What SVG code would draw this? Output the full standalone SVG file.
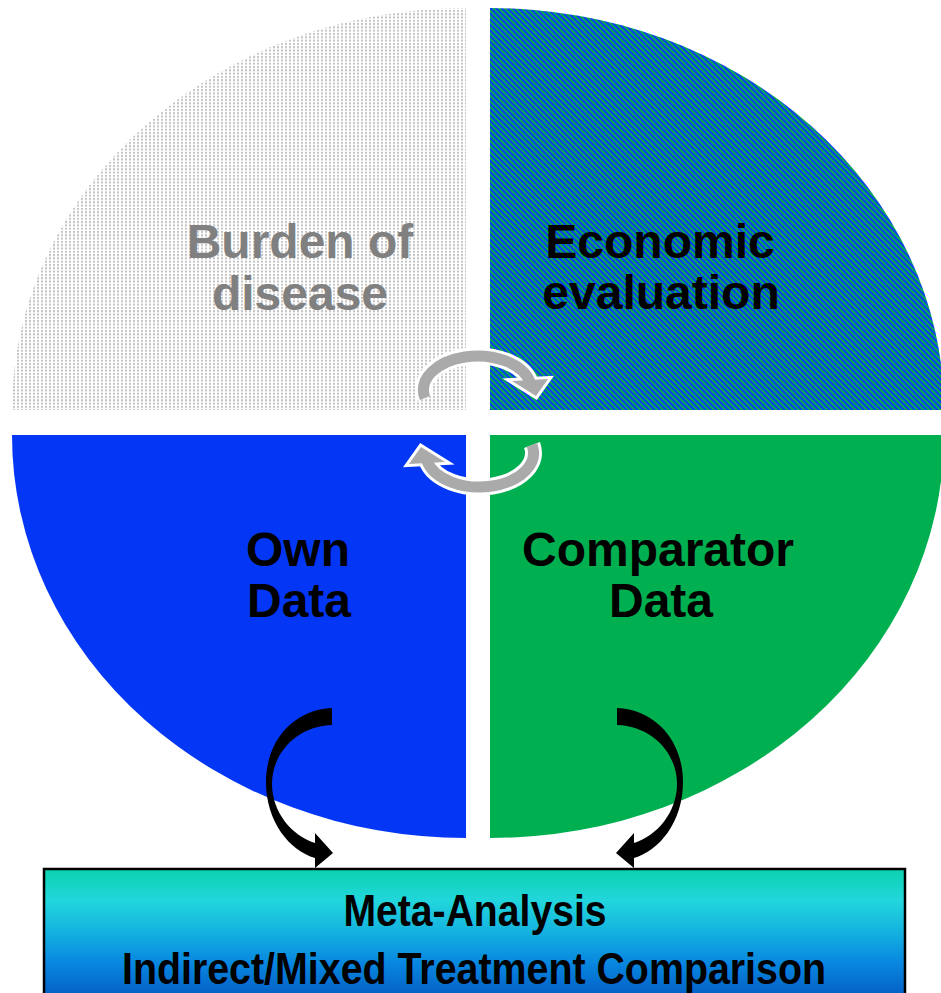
<svg xmlns="http://www.w3.org/2000/svg" width="941" height="993" viewBox="0 0 941 993">
<style>
.q{font-family:"Liberation Sans",Arial,sans-serif;font-weight:bold;font-size:48px;text-anchor:middle}
.b{font-family:"Liberation Sans",Arial,sans-serif;font-weight:bold;font-size:44px;text-anchor:middle}
.gw{fill:none;stroke:#fff;stroke-width:17}
.gg{fill:none;stroke:#aaaaaa;stroke-width:11}
.hw{fill:#fff;stroke:#fff;stroke-width:6;stroke-linejoin:miter}
.hg{fill:#aaaaaa}
</style>
<defs>
<pattern id="dots" width="4" height="3.3" patternUnits="userSpaceOnUse">
<rect width="4" height="3.3" fill="#fff"/>
<rect x="1" y="0" width="2" height="2" fill="#c4c4c4"/>
</pattern>
<pattern id="stripes" width="4" height="4" patternUnits="userSpaceOnUse" patternTransform="rotate(-45)">
<rect width="2" height="4" fill="#0b3af8"/>
<rect x="2" width="2" height="4" fill="#0aac4c"/>
</pattern>
<linearGradient id="boxg" gradientUnits="userSpaceOnUse" x1="0" y1="869" x2="0" y2="995">
<stop offset="0" stop-color="#0bd2ae"/>
<stop offset="0.25" stop-color="#22d6dc"/>
<stop offset="0.5" stop-color="#14b2e0"/>
<stop offset="0.75" stop-color="#0886e0"/>
<stop offset="1" stop-color="#0460c6"/>
</linearGradient>
</defs>

<g id="burden">
<path d="M 466 410 L 12 410 A 454 402 0 0 1 466 8 Z" fill="url(#dots)"/>
<text class="q" x="300" y="258" fill="#808080">Burden of</text>
<text class="q" x="300" y="310" fill="#808080">disease</text>
</g>
<g id="economic">
<path d="M 490 410 L 490 8 A 454 402 0 0 1 944 410 Z" fill="url(#stripes)"/>
<text class="q" x="660" y="258" fill="#000">Economic</text>
<text class="q" x="661" y="309" fill="#000">evaluation</text>
</g>
<g id="own">
<path d="M 466 435 L 466 838 A 454 403 0 0 1 12 435 Z" fill="#0437f5"/>
<text class="q" x="298" y="566" fill="#000">Own</text>
<text class="q" x="299" y="617" fill="#000">Data</text>
</g>
<g id="comparator">
<path d="M 490 435 L 944 435 A 454 403 0 0 1 490 838 Z" fill="#00b050"/>
<text class="q" x="658" y="566" fill="#000">Comparator</text>
<text class="q" x="661" y="617" fill="#000">Data</text>
</g>
<g id="meta">
<rect x="44" y="869" width="861" height="140" fill="url(#boxg)" stroke="#000" stroke-width="2.5"/>
<text class="b" x="475" y="926" textLength="263" lengthAdjust="spacingAndGlyphs">Meta-Analysis</text>
<text class="b" x="474" y="984" textLength="704" lengthAdjust="spacingAndGlyphs">Indirect/Mixed Treatment Comparison</text>
</g>

<g id="connectors">
<g id="cycle-top">
<path class="gw" d="M 425 398 A 54 34 0 0 1 530 382"/>
<polygon class="hw" points="512,381 548,379 536,396"/>
<path class="gg" d="M 425 398 A 54 34 0 0 1 530 382"/>
<polygon class="hg" points="512,381 548,379 536,396"/>
</g>
<g id="cycle-bottom" transform="rotate(180 478.5 421.5)">
<path class="gw" d="M 425 398 A 54 34 0 0 1 530 382"/>
<polygon class="hw" points="512,381 548,379 536,396"/>
<path class="gg" d="M 425 398 A 54 34 0 0 1 530 382"/>
<polygon class="hg" points="512,381 548,379 536,396"/>
</g>
<path id="arrow-left" fill="#000" d="M 332 708 C 292 710 266 742 266 782 C 266 822 290 851 315 858 L 315 868 L 333 853 L 315 833 L 315 843 C 292 836 272 812 272 784 C 272 752 298 726 332 725 Z"/>
<path id="arrow-right" fill="#000" transform="translate(949 0) scale(-1 1)" d="M 332 708 C 292 710 266 742 266 782 C 266 822 290 851 315 858 L 315 868 L 333 853 L 315 833 L 315 843 C 292 836 272 812 272 784 C 272 752 298 726 332 725 Z"/>
</g>
</svg>
